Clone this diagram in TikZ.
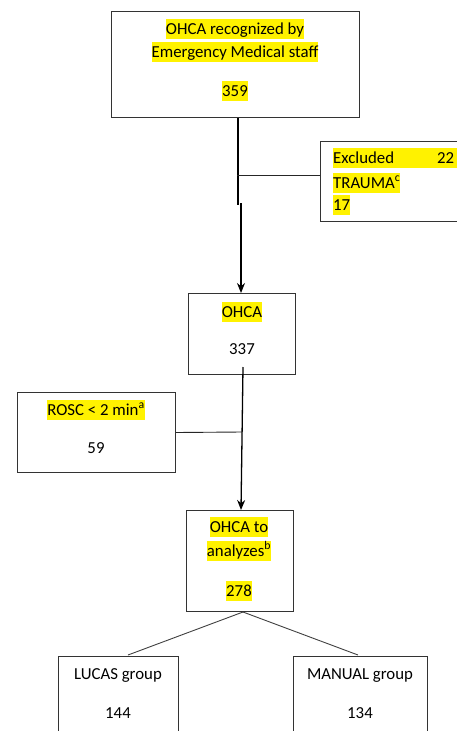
\documentclass[tikz,border=0pt]{standalone}
\usepackage{fontspec}
\setmainfont{Carlito}
\usetikzlibrary{arrows.meta}
\newcommand\hlt[1]{{\setlength{\fboxsep}{0pt}\colorbox{yellow}{\rule[-4.5pt]{0pt}{19.5pt}#1}}}
\newcommand\plaintxt[1]{\rule[-4.5pt]{0pt}{19.5pt}#1}
\begin{document}
\begin{tikzpicture}[x=1pt,y=-1pt,
  box/.style={draw=black!80, line width=1pt, anchor=north west, inner sep=0pt},
  txt/.style={inner sep=0pt, font=\fontsize{16.8}{20}\selectfont},
  link/.style={draw=black, line width=1.3pt},
  thinlink/.style={draw=black!85, line width=0.9pt},
  arr/.style={link, -{Stealth[length=10pt,width=8pt]}}]
\useasboundingbox (0,0) rectangle (457,731);

% boxes
\node[box, minimum width=248pt, minimum height=106pt] (b1) at (111,11) {};
\node[box, minimum width=155pt, minimum height=80pt] (b3) at (320,141) {};
\node[box, minimum width=107pt, minimum height=81pt] (b2) at (188,293) {};
\node[box, minimum width=158pt, minimum height=80pt] (br) at (17,392) {};
\node[box, minimum width=107pt, minimum height=101pt] (b4) at (186,510) {};
\node[box, minimum width=120pt, minimum height=90pt] (bl) at (58,656) {};
\node[box, minimum width=134pt, minimum height=90pt] (bm) at (293,656) {};

% texts
\node[txt] (t1a) at (235,29) {\hlt{OHCA recognized by}};
\node[txt] (t1b) at (235,52) {\hlt{Emergency Medical staff}};
\node[txt] (t1c) at (235,91) {\hlt{359}};

\node[txt, anchor=west] (t3a) at (333,158) {\hlt{\makebox[121pt][l]{Excluded\hfill 22}\hspace*{6pt}}};
\node[txt, anchor=west] (t3b) at (333,183) {\hlt{TRAUMA\textsuperscript{c}}};
\node[txt, anchor=west] (t3c) at (333,205) {\hlt{17}};

\node[txt] (t2a) at (242,312) {\hlt{OHCA}};
\node[txt] (t2b) at (242,349) {\plaintxt{337}};

\node[txt] (tra) at (96,410) {\hlt{ROSC < 2 min\textsuperscript{a}}};
\node[txt] (trb) at (96,448) {\plaintxt{59}};

\node[txt] (t4a) at (239,527) {\hlt{OHCA to}};
\node[txt] (t4b) at (239,551) {\hlt{analyzes\textsuperscript{b}}};
\node[txt] (t4c) at (239,591) {\hlt{278}};

\node[txt] (tla) at (118,674) {\plaintxt{LUCAS group}};
\node[txt] (tlb) at (118,713) {\plaintxt{144}};
\node[txt] (tma) at (360,674) {\plaintxt{MANUAL group}};
\node[txt] (tmb) at (360,713) {\plaintxt{134}};

% connectors
\coordinate (j1) at (238,205);
\coordinate (j2) at (241,203);
\draw[link] (b1.south -| j1) -- (j1);
\draw[arr] (j2) -- (j2 |- b2.north);
\coordinate (h1) at (237,175);
\draw[thinlink] (h1) -- (h1 -| b3.west);

\coordinate (s2) at (243,367);
\coordinate (e2) at (241,510);
\draw[arr] (s2) -- (e2);
\coordinate (h2) at (242,432);
\draw[thinlink] (br.east) -- (h2);

\coordinate (ap) at (243,612);
\coordinate (lt) at (128,655);
\coordinate (rt) at (358,655);
\draw[thinlink, draw=black!75] (ap) -- (lt);
\draw[thinlink, draw=black!75] (ap) -- (rt);
\end{tikzpicture}
\end{document}
